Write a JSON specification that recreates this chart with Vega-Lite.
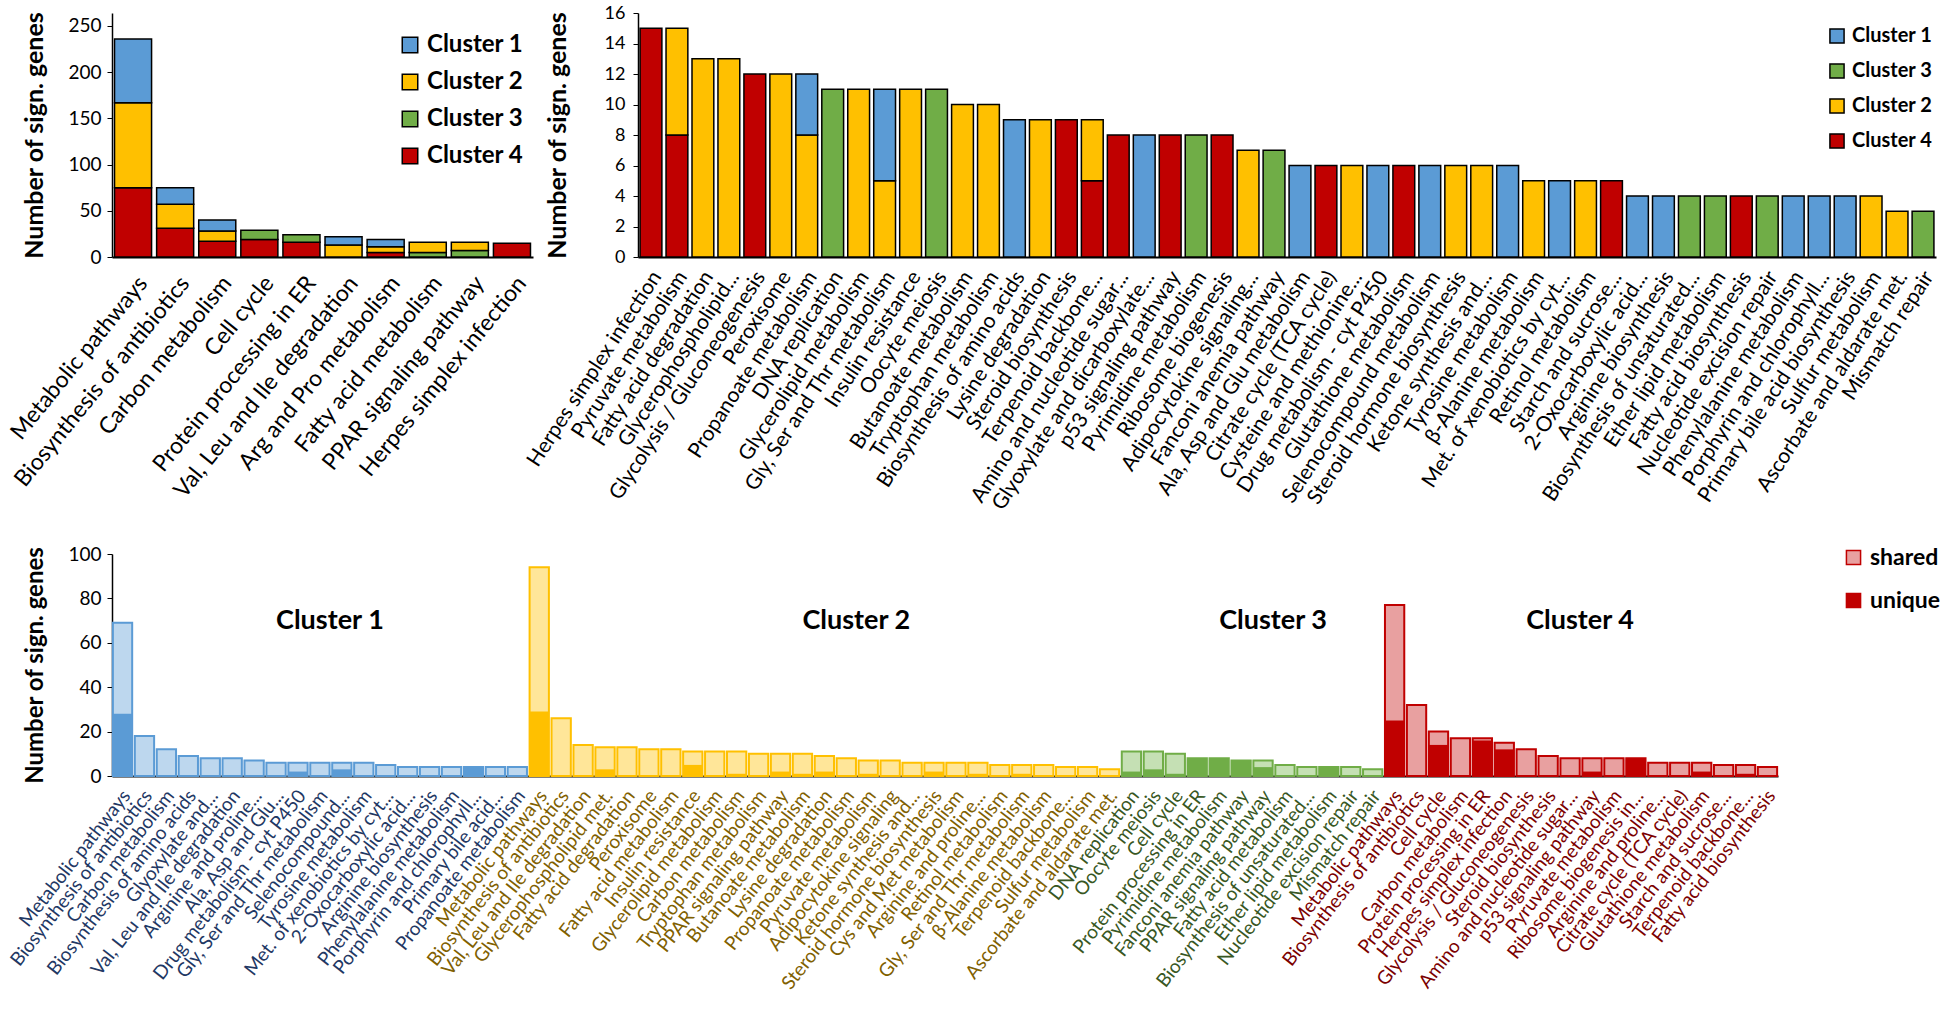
{
 "$schema": "https://vega.github.io/schema/vega-lite/v6.json",
 "background": "white",
 "padding": {"left": 6, "top": 4, "right": 0, "bottom": 0},
 "config": {
  "font": "Lato",
  "view": {"stroke": null},
  "axis": {"labelFont": "Lato", "titleFont": "Lato", "labelColor": "black", "titleColor": "black", "domainColor": "black", "tickColor": "black", "grid": false},
  "legend": {"labelFont": "Lato"}
 },
 "datasets": {
  "tl": [
   {"p": "Metabolic pathways", "c": "Cluster 4", "v": 75}, {"p": "Metabolic pathways", "c": "Cluster 2", "v": 92}, {"p": "Metabolic pathways", "c": "Cluster 1", "v": 69},
   {"p": "Biosynthesis of antibiotics", "c": "Cluster 4", "v": 31}, {"p": "Biosynthesis of antibiotics", "c": "Cluster 2", "v": 26}, {"p": "Biosynthesis of antibiotics", "c": "Cluster 1", "v": 18},
   {"p": "Carbon metabolism", "c": "Cluster 4", "v": 17}, {"p": "Carbon metabolism", "c": "Cluster 2", "v": 11}, {"p": "Carbon metabolism", "c": "Cluster 1", "v": 12},
   {"p": "Cell cycle", "c": "Cluster 4", "v": 19}, {"p": "Cell cycle", "c": "Cluster 3", "v": 10},
   {"p": "Protein processing in ER", "c": "Cluster 4", "v": 16}, {"p": "Protein processing in ER", "c": "Cluster 3", "v": 8},
   {"p": "Val, Leu and Ile degradation", "c": "Cluster 2", "v": 13}, {"p": "Val, Leu and Ile degradation", "c": "Cluster 1", "v": 9},
   {"p": "Arg and Pro metabolism", "c": "Cluster 4", "v": 5}, {"p": "Arg and Pro metabolism", "c": "Cluster 2", "v": 6}, {"p": "Arg and Pro metabolism", "c": "Cluster 1", "v": 8},
   {"p": "Fatty acid metabolism", "c": "Cluster 3", "v": 5}, {"p": "Fatty acid metabolism", "c": "Cluster 2", "v": 11},
   {"p": "PPAR signaling pathway", "c": "Cluster 3", "v": 7}, {"p": "PPAR signaling pathway", "c": "Cluster 2", "v": 9},
   {"p": "Herpes simplex infection", "c": "Cluster 4", "v": 15}
  ],
  "tr": [
   {"p": "Herpes simplex infection", "c": "Cluster 4", "v": 15},
   {"p": "Pyruvate metabolism", "c": "Cluster 4", "v": 8}, {"p": "Pyruvate metabolism", "c": "Cluster 2", "v": 7},
   {"p": "Fatty acid degradation", "c": "Cluster 2", "v": 13},
   {"p": "Glycerophospholipid...", "c": "Cluster 2", "v": 13},
   {"p": "Glycolysis / Gluconeogenesis", "c": "Cluster 4", "v": 12},
   {"p": "Peroxisome", "c": "Cluster 2", "v": 12},
   {"p": "Propanoate metabolism", "c": "Cluster 2", "v": 8}, {"p": "Propanoate metabolism", "c": "Cluster 1", "v": 4},
   {"p": "DNA replication", "c": "Cluster 3", "v": 11},
   {"p": "Glycerolipid metabolism", "c": "Cluster 2", "v": 11},
   {"p": "Gly, Ser and Thr metabolism", "c": "Cluster 2", "v": 5}, {"p": "Gly, Ser and Thr metabolism", "c": "Cluster 1", "v": 6},
   {"p": "Insulin resistance", "c": "Cluster 2", "v": 11},
   {"p": "Oocyte meiosis", "c": "Cluster 3", "v": 11},
   {"p": "Butanoate metabolism", "c": "Cluster 2", "v": 10},
   {"p": "Tryptophan metabolism", "c": "Cluster 2", "v": 10},
   {"p": "Biosynthesis of amino acids", "c": "Cluster 1", "v": 9},
   {"p": "Lysine degradation", "c": "Cluster 2", "v": 9},
   {"p": "Steroid biosynthesis", "c": "Cluster 4", "v": 9},
   {"p": "Terpenoid backbone...", "c": "Cluster 4", "v": 5}, {"p": "Terpenoid backbone...", "c": "Cluster 2", "v": 4},
   {"p": "Amino and nucleotide sugar...", "c": "Cluster 4", "v": 8},
   {"p": "Glyoxylate and dicarboxylate...", "c": "Cluster 1", "v": 8},
   {"p": "p53 signaling pathway", "c": "Cluster 4", "v": 8},
   {"p": "Pyrimidine metabolism", "c": "Cluster 3", "v": 8},
   {"p": "Ribosome biogenesis", "c": "Cluster 4", "v": 8},
   {"p": "Adipocytokine signaling...", "c": "Cluster 2", "v": 7},
   {"p": "Fanconi anemia pathway", "c": "Cluster 3", "v": 7},
   {"p": "Ala, Asp and Glu metabolism", "c": "Cluster 1", "v": 6},
   {"p": "Citrate cycle (TCA cycle)", "c": "Cluster 4", "v": 6},
   {"p": "Cysteine and methionine...", "c": "Cluster 2", "v": 6},
   {"p": "Drug metabolism - cyt P450", "c": "Cluster 1", "v": 6},
   {"p": "Glutathione metabolism", "c": "Cluster 4", "v": 6},
   {"p": "Selenocompound metabolism", "c": "Cluster 1", "v": 6},
   {"p": "Steroid hormone biosynthesis", "c": "Cluster 2", "v": 6},
   {"p": "Ketone synthesis and...", "c": "Cluster 2", "v": 6},
   {"p": "Tyrosine metabolism", "c": "Cluster 1", "v": 6},
   {"p": "β-Alanine metabolism", "c": "Cluster 2", "v": 5},
   {"p": "Met. of xenobiotics by cyt...", "c": "Cluster 1", "v": 5},
   {"p": "Retinol metabolism", "c": "Cluster 2", "v": 5},
   {"p": "Starch and sucrose...", "c": "Cluster 4", "v": 5},
   {"p": "2-Oxocarboxylic acid...", "c": "Cluster 1", "v": 4},
   {"p": "Arginine biosynthesis", "c": "Cluster 1", "v": 4},
   {"p": "Biosynthesis of unsaturated...", "c": "Cluster 3", "v": 4},
   {"p": "Ether lipid metabolism", "c": "Cluster 3", "v": 4},
   {"p": "Fatty acid biosynthesis", "c": "Cluster 4", "v": 4},
   {"p": "Nucleotide excision repair", "c": "Cluster 3", "v": 4},
   {"p": "Phenylalanine metabolism", "c": "Cluster 1", "v": 4},
   {"p": "Porphyrin and chlorophyll...", "c": "Cluster 1", "v": 4},
   {"p": "Primary bile acid biosynthesis", "c": "Cluster 1", "v": 4},
   {"p": "Sulfur metabolism", "c": "Cluster 2", "v": 4},
   {"p": "Ascorbate and aldarate met.", "c": "Cluster 2", "v": 3},
   {"p": "Mismatch repair", "c": "Cluster 3", "v": 3}
  ],
  "bot": [
   {"id": "1|Metabolic pathways", "c": "Cluster 1", "total": 69, "unique": 28},
   {"id": "1|Biosynthesis of antibiotics", "c": "Cluster 1", "total": 18, "unique": 0},
   {"id": "1|Carbon metabolism", "c": "Cluster 1", "total": 12, "unique": 0},
   {"id": "1|Biosynthesis of amino acids", "c": "Cluster 1", "total": 9, "unique": 0},
   {"id": "1|Glyoxylate and...", "c": "Cluster 1", "total": 8, "unique": 0},
   {"id": "1|Val, Leu and Ile degradation", "c": "Cluster 1", "total": 8, "unique": 0},
   {"id": "1|Arginine and proline...", "c": "Cluster 1", "total": 7, "unique": 0},
   {"id": "1|Ala, Asp and Glu...", "c": "Cluster 1", "total": 6, "unique": 0},
   {"id": "1|Drug metabolism - cyt P450", "c": "Cluster 1", "total": 6, "unique": 2},
   {"id": "1|Gly, Ser and Thr metabolism", "c": "Cluster 1", "total": 6, "unique": 0},
   {"id": "1|Selenocompound...", "c": "Cluster 1", "total": 6, "unique": 3},
   {"id": "1|Tyrosine metabolism", "c": "Cluster 1", "total": 6, "unique": 0},
   {"id": "1|Met. of xenobiotics by cyt...", "c": "Cluster 1", "total": 5, "unique": 0},
   {"id": "1|2-Oxocarboxylic acid...", "c": "Cluster 1", "total": 4, "unique": 0},
   {"id": "1|Arginine biosynthesis", "c": "Cluster 1", "total": 4, "unique": 0},
   {"id": "1|Phenylalanine metabolism", "c": "Cluster 1", "total": 4, "unique": 0},
   {"id": "1|Porphyrin and chlorophyll...", "c": "Cluster 1", "total": 4, "unique": 4},
   {"id": "1|Primary bile acid...", "c": "Cluster 1", "total": 4, "unique": 0},
   {"id": "1|Propanoate metabolism", "c": "Cluster 1", "total": 4, "unique": 0},
   {"id": "2|Metabolic pathways", "c": "Cluster 2", "total": 94, "unique": 29},
   {"id": "2|Biosynthesis of antibiotics", "c": "Cluster 2", "total": 26, "unique": 0},
   {"id": "2|Val, Leu and Ile degradation", "c": "Cluster 2", "total": 14, "unique": 0},
   {"id": "2|Glycerophospholipid met.", "c": "Cluster 2", "total": 13, "unique": 3},
   {"id": "2|Fatty acid degradation", "c": "Cluster 2", "total": 13, "unique": 0},
   {"id": "2|Peroxisome", "c": "Cluster 2", "total": 12, "unique": 0},
   {"id": "2|Fatty acid metabolism", "c": "Cluster 2", "total": 12, "unique": 0},
   {"id": "2|Insulin resistance", "c": "Cluster 2", "total": 11, "unique": 5},
   {"id": "2|Glycerolipid metabolism", "c": "Cluster 2", "total": 11, "unique": 0},
   {"id": "2|Carbon metabolism", "c": "Cluster 2", "total": 11, "unique": 1},
   {"id": "2|Tryptophan metabolism", "c": "Cluster 2", "total": 10, "unique": 0},
   {"id": "2|PPAR signaling pathway", "c": "Cluster 2", "total": 10, "unique": 2},
   {"id": "2|Butanoate metabolism", "c": "Cluster 2", "total": 10, "unique": 1},
   {"id": "2|Lysine degradation", "c": "Cluster 2", "total": 9, "unique": 2},
   {"id": "2|Propanoate metabolism", "c": "Cluster 2", "total": 8, "unique": 0},
   {"id": "2|Pyruvate metabolism", "c": "Cluster 2", "total": 7, "unique": 1},
   {"id": "2|Adipocytokine signaling", "c": "Cluster 2", "total": 7, "unique": 0},
   {"id": "2|Ketone synthesis and...", "c": "Cluster 2", "total": 6, "unique": 0},
   {"id": "2|Steroid hormone biosynthesis", "c": "Cluster 2", "total": 6, "unique": 2},
   {"id": "2|Cys and Met metabolism", "c": "Cluster 2", "total": 6, "unique": 0},
   {"id": "2|Arginine and proline...", "c": "Cluster 2", "total": 6, "unique": 1},
   {"id": "2|Retinol metabolism", "c": "Cluster 2", "total": 5, "unique": 0},
   {"id": "2|Gly, Ser and Thr metabolism", "c": "Cluster 2", "total": 5, "unique": 1},
   {"id": "2|β-Alanine metabolism", "c": "Cluster 2", "total": 5, "unique": 0},
   {"id": "2|Terpenoid backbone...", "c": "Cluster 2", "total": 4, "unique": 0},
   {"id": "2|Sulfur metabolism", "c": "Cluster 2", "total": 4, "unique": 0},
   {"id": "2|Ascorbate and aldarate met.", "c": "Cluster 2", "total": 3, "unique": 0},
   {"id": "3|DNA replication", "c": "Cluster 3", "total": 11, "unique": 2},
   {"id": "3|Oocyte meiosis", "c": "Cluster 3", "total": 11, "unique": 3},
   {"id": "3|Cell cycle", "c": "Cluster 3", "total": 10, "unique": 1},
   {"id": "3|Protein processing in ER", "c": "Cluster 3", "total": 8, "unique": 8},
   {"id": "3|Pyrimidine metabolism", "c": "Cluster 3", "total": 8, "unique": 8},
   {"id": "3|Fanconi anemia pathway", "c": "Cluster 3", "total": 7, "unique": 7},
   {"id": "3|PPAR signaling pathway", "c": "Cluster 3", "total": 7, "unique": 4},
   {"id": "3|Fatty acid metabolism", "c": "Cluster 3", "total": 5, "unique": 0},
   {"id": "3|Biosynthesis of unsaturated...", "c": "Cluster 3", "total": 4, "unique": 0},
   {"id": "3|Ether lipid metabolism", "c": "Cluster 3", "total": 4, "unique": 4},
   {"id": "3|Nucleotide excision repair", "c": "Cluster 3", "total": 4, "unique": 0},
   {"id": "3|Mismatch repair", "c": "Cluster 3", "total": 3, "unique": 0},
   {"id": "4|Metabolic pathways", "c": "Cluster 4", "total": 77, "unique": 25},
   {"id": "4|Biosynthesis of antibiotics", "c": "Cluster 4", "total": 32, "unique": 0},
   {"id": "4|Cell cycle", "c": "Cluster 4", "total": 20, "unique": 14},
   {"id": "4|Carbon metabolism", "c": "Cluster 4", "total": 17, "unique": 0},
   {"id": "4|Protein processing in ER", "c": "Cluster 4", "total": 17, "unique": 16},
   {"id": "4|Herpes simplex infection", "c": "Cluster 4", "total": 15, "unique": 12},
   {"id": "4|Glycolysis / Gluconeogenesis", "c": "Cluster 4", "total": 12, "unique": 0},
   {"id": "4|Steroid biosynthesis", "c": "Cluster 4", "total": 9, "unique": 0},
   {"id": "4|Amino and nucleotide sugar...", "c": "Cluster 4", "total": 8, "unique": 0},
   {"id": "4|p53 signaling pathway", "c": "Cluster 4", "total": 8, "unique": 2},
   {"id": "4|Pyruvate metabolism", "c": "Cluster 4", "total": 8, "unique": 0},
   {"id": "4|Ribosome biogenesis in...", "c": "Cluster 4", "total": 8, "unique": 8},
   {"id": "4|Arginine and proline...", "c": "Cluster 4", "total": 6, "unique": 0},
   {"id": "4|Citrate cycle (TCA cycle)", "c": "Cluster 4", "total": 6, "unique": 0},
   {"id": "4|Glutathione metabolism", "c": "Cluster 4", "total": 6, "unique": 2},
   {"id": "4|Starch and sucrose...", "c": "Cluster 4", "total": 5, "unique": 0},
   {"id": "4|Terpenoid backbone...", "c": "Cluster 4", "total": 5, "unique": 1},
   {"id": "4|Fatty acid biosynthesis", "c": "Cluster 4", "total": 4, "unique": 0}
  ],
  "lab": [
   {"id": "1|Gly, Ser and Thr metabolism", "t": "Cluster 1"},
   {"id": "2|Propanoate metabolism", "t": "Cluster 2"},
   {"id": "3|PPAR signaling pathway", "t": "Cluster 3"},
   {"id": "4|Amino and nucleotide sugar...", "t": "Cluster 4"}
  ],
  "legd": [
   {"id": "1|Metabolic pathways", "kind": "shared", "v": 0},
   {"id": "1|Metabolic pathways", "kind": "unique", "v": 0}
  ]
 },
 "bounds": "flush",
 "spacing": 541,
 "vconcat": [
  {
   "bounds": "flush",
   "spacing": 105,
   "resolve": {"scale": {"color": "independent"}},
   "hconcat": [
    {
     "width": 421, "height": 244,
     "data": {"name": "tl"},
     "mark": {"type": "bar", "stroke": "black", "strokeWidth": 1.5},
     "encoding": {
      "x": {"field": "p", "type": "nominal", "sort": null, "title": null,
       "scale": {"paddingInner": 0.12, "paddingOuter": 0.06},
       "axis": {"labelAngle": -51, "labelFontSize": 23, "ticks": false, "domainWidth": 2, "labelLimit": 0, "labelPadding": 22, "labelOffset": 10}},
      "y": {"field": "v", "type": "quantitative", "title": "Number of sign. genes", "stack": "zero",
       "scale": {"domain": [0, 264], "nice": false},
       "axis": {"values": [0, 50, 100, 150, 200, 250], "labelFontSize": 19, "titleFontSize": 25, "titleFontWeight": "bold", "tickSize": 5, "domainWidth": 1.5, "titlePadding": 20, "labelPadding": 6}},
      "color": {"field": "c", "type": "nominal",
       "scale": {"domain": ["Cluster 1", "Cluster 2", "Cluster 3", "Cluster 4"], "range": ["#5B9BD5", "#FFC000", "#70AD47", "#C00000"]},
       "legend": {"orient": "none", "legendX": 286, "legendY": 20, "title": null, "symbolType": "square", "symbolSize": 240, "symbolStrokeColor": "black", "symbolStrokeWidth": 1.5, "labelFontSize": 24, "labelFontWeight": "bold", "rowPadding": 13, "labelOffset": 5, "padding": 0}},
      "order": {"field": "c", "sort": "descending"}
     }
    },
    {
     "width": 1298, "height": 244,
     "data": {"name": "tr"},
     "mark": {"type": "bar", "stroke": "black", "strokeWidth": 1.5},
     "encoding": {
      "x": {"field": "p", "type": "nominal", "sort": null, "title": null,
       "scale": {"paddingInner": 0.16, "paddingOuter": 0.08},
       "axis": {"labelAngle": -57, "labelFontSize": 21, "ticks": false, "domainWidth": 2, "labelLimit": 0, "labelPadding": 16, "labelOffset": 6}},
      "y": {"field": "v", "type": "quantitative", "title": "Number of sign. genes", "stack": "zero",
       "scale": {"domain": [0, 16], "nice": false},
       "axis": {"values": [0, 2, 4, 6, 8, 10, 12, 14, 16], "labelFontSize": 18, "titleFontSize": 25, "titleFontWeight": "bold", "tickSize": 5, "domainWidth": 1.5, "titlePadding": 34, "labelPadding": 8}},
      "color": {"field": "c", "type": "nominal",
       "scale": {"domain": ["Cluster 1", "Cluster 3", "Cluster 2", "Cluster 4"], "range": ["#5B9BD5", "#70AD47", "#FFC000", "#C00000"]},
       "legend": {"orient": "none", "legendX": 1189, "legendY": 13, "title": null, "symbolType": "square", "symbolSize": 200, "symbolStrokeColor": "black", "symbolStrokeWidth": 1.5, "labelFontSize": 20, "labelFontWeight": "bold", "rowPadding": 13, "labelOffset": 5, "padding": 0}},
      "order": {"field": "c", "sort": "descending"}
     }
    }
   ]
  },
  {
   "bounds": "flush",
   "resolve": {"scale": {"color": "independent", "fill": "independent", "stroke": "independent"}},
   "hconcat": [
    {
     "width": 1666, "height": 222,
     "resolve": {"scale": {"fill": "independent"}},
     "layer": [
      {
       "data": {"name": "bot"},
       "mark": {"type": "bar", "strokeWidth": 2},
       "encoding": {
        "x": {"field": "id", "type": "nominal", "title": null,
         "scale": {"paddingInner": 0.12, "paddingOuter": 0.04, "domain": [
          "1|Metabolic pathways", "1|Biosynthesis of antibiotics", "1|Carbon metabolism", "1|Biosynthesis of amino acids", "1|Glyoxylate and...", "1|Val, Leu and Ile degradation", "1|Arginine and proline...", "1|Ala, Asp and Glu...", "1|Drug metabolism - cyt P450", "1|Gly, Ser and Thr metabolism", "1|Selenocompound...", "1|Tyrosine metabolism", "1|Met. of xenobiotics by cyt...", "1|2-Oxocarboxylic acid...", "1|Arginine biosynthesis", "1|Phenylalanine metabolism", "1|Porphyrin and chlorophyll...", "1|Primary bile acid...", "1|Propanoate metabolism",
          "2|Metabolic pathways", "2|Biosynthesis of antibiotics", "2|Val, Leu and Ile degradation", "2|Glycerophospholipid met.", "2|Fatty acid degradation", "2|Peroxisome", "2|Fatty acid metabolism", "2|Insulin resistance", "2|Glycerolipid metabolism", "2|Carbon metabolism", "2|Tryptophan metabolism", "2|PPAR signaling pathway", "2|Butanoate metabolism", "2|Lysine degradation", "2|Propanoate metabolism", "2|Pyruvate metabolism", "2|Adipocytokine signaling", "2|Ketone synthesis and...", "2|Steroid hormone biosynthesis", "2|Cys and Met metabolism", "2|Arginine and proline...", "2|Retinol metabolism", "2|Gly, Ser and Thr metabolism", "2|β-Alanine metabolism", "2|Terpenoid backbone...", "2|Sulfur metabolism", "2|Ascorbate and aldarate met.",
          "3|DNA replication", "3|Oocyte meiosis", "3|Cell cycle", "3|Protein processing in ER", "3|Pyrimidine metabolism", "3|Fanconi anemia pathway", "3|PPAR signaling pathway", "3|Fatty acid metabolism", "3|Biosynthesis of unsaturated...", "3|Ether lipid metabolism", "3|Nucleotide excision repair", "3|Mismatch repair",
          "4|Metabolic pathways", "4|Biosynthesis of antibiotics", "4|Cell cycle", "4|Carbon metabolism", "4|Protein processing in ER", "4|Herpes simplex infection", "4|Glycolysis / Gluconeogenesis", "4|Steroid biosynthesis", "4|Amino and nucleotide sugar...", "4|p53 signaling pathway", "4|Pyruvate metabolism", "4|Ribosome biogenesis in...", "4|Arginine and proline...", "4|Citrate cycle (TCA cycle)", "4|Glutathione metabolism", "4|Starch and sucrose...", "4|Terpenoid backbone...", "4|Fatty acid biosynthesis"
         ]},
         "axis": {"labelAngle": -52, "labelFontSize": 19, "ticks": false, "domainWidth": 2, "labelLimit": 0, "labelPadding": 16, "labelOffset": 4,
          "labelExpr": "split(datum.value, '|')[1]",
          "labelColor": {"condition": [
            {"test": "indexof(datum.value, '1|') == 0", "value": "#1F3864"},
            {"test": "indexof(datum.value, '2|') == 0", "value": "#7F6000"},
            {"test": "indexof(datum.value, '3|') == 0", "value": "#385723"}
           ], "value": "#7B0000"}}},
        "y": {"field": "total", "type": "quantitative", "title": "Number of sign. genes",
         "scale": {"domain": [0, 100], "nice": false},
         "axis": {"values": [0, 20, 40, 60, 80, 100], "labelFontSize": 19, "titleFontSize": 24, "titleFontWeight": "bold", "tickSize": 5, "domainWidth": 1.5, "titlePadding": 20, "labelPadding": 6}},
        "fill": {"field": "c", "type": "nominal", "legend": null,
         "scale": {"domain": ["Cluster 1", "Cluster 2", "Cluster 3", "Cluster 4"], "range": ["#BDD7EE", "#FFE699", "#C5E0B4", "#E8A0A0"]}},
        "stroke": {"field": "c", "type": "nominal", "legend": null,
         "scale": {"domain": ["Cluster 1", "Cluster 2", "Cluster 3", "Cluster 4"], "range": ["#5B9BD5", "#FFC000", "#70AD47", "#C00000"]}}
       }
      },
      {
       "data": {"name": "bot"},
       "mark": {"type": "bar"},
       "encoding": {
        "x": {"field": "id", "type": "nominal", "title": null},
        "y": {"field": "unique", "type": "quantitative", "title": "Number of sign. genes"},
        "color": {"field": "c", "type": "nominal", "legend": null,
         "scale": {"domain": ["Cluster 1", "Cluster 2", "Cluster 3", "Cluster 4"], "range": ["#5B9BD5", "#FFC000", "#70AD47", "#C00000"]}}
       }
      },
      {
       "data": {"name": "lab"},
       "mark": {"type": "text", "fontSize": 27, "fontWeight": "bold", "font": "Lato", "color": "black", "dx": 10},
       "encoding": {
        "x": {"field": "id", "type": "nominal", "title": null},
        "y": {"datum": 70, "type": "quantitative"},
        "text": {"field": "t", "type": "nominal"}
       }
      },
      {
       "data": {"name": "legd"},
       "mark": {"type": "bar", "strokeWidth": 0},
       "encoding": {
        "x": {"field": "id", "type": "nominal", "title": null},
        "y": {"field": "v", "type": "quantitative", "title": "Number of sign. genes"},
        "fill": {"field": "kind", "type": "nominal",
         "scale": {"domain": ["shared", "unique"], "range": ["#E8A0A0", "#C00000"]},
         "legend": {"orient": "none", "legendX": 1730, "legendY": -8, "title": null, "symbolType": "square", "symbolSize": 200, "symbolStrokeColor": "#C00000", "symbolStrokeWidth": 1.5, "labelFontSize": 23, "labelFontWeight": "bold", "rowPadding": 19, "labelOffset": 5, "padding": 0}}
       }
      }
     ]
    }
   ]
  }
 ],
 "resolve": {"scale": {"color": "independent", "fill": "independent", "stroke": "independent"}}
}
